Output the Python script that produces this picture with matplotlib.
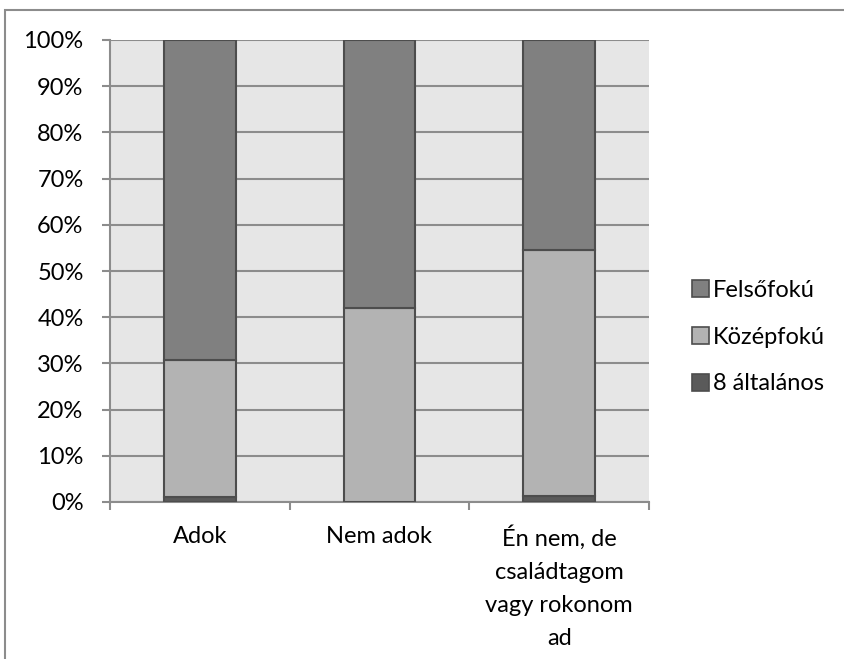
import numpy as np
import matplotlib.pyplot as plt
from matplotlib.patches import Rectangle, Patch

plt.rcParams['font.family'] = ['Lato', 'DejaVu Sans']

categories = ['Adok', 'Nem adok', 'Én nem, de\ncsaládtagom\nvagy rokonom\nad']
series = ['8 általános', 'Középfokú', 'Felsőfokú']
altalanos = [1.0, 0.0, 1.3]
kozepfoku = [29.7, 42.0, 53.2]
felsofoku = [69.3, 58.0, 45.5]
colors = ['#5a5a5a', '#b3b3b3', '#808080']

fs = 17

fig = plt.figure(figsize=(8.45, 6.59), dpi=100)
fig.patches.append(Rectangle((5 / 845, -0.05), 1.2, 0.05 + (659 - 10) / 659,
                             transform=fig.transFigure, fill=False,
                             edgecolor='#8c8c8c', linewidth=1.5))
ax = fig.add_axes([110 / 845, (659 - 502) / 659, (649 - 110) / 845, (502 - 40) / 659])
ax.set_facecolor('#e6e6e6')

x = np.arange(len(categories))
bottom = np.zeros(len(categories))
for vals, col, name in zip([altalanos, kozepfoku, felsofoku], colors, series):
    ax.bar(x, vals, 0.4, bottom=bottom, color=col, edgecolor='#4d4d4d',
           linewidth=1.5, label=name, zorder=3)
    bottom += np.array(vals)

ax.set_xlim(-0.5, 2.5)
ax.set_ylim(0, 100)
ax.set_yticks(np.arange(0, 101, 10))
ax.set_yticklabels([f'{v}%' for v in range(0, 101, 10)], fontsize=fs)
ax.yaxis.grid(True, color='#8c8c8c', linewidth=1.5, zorder=0)
ax.set_axisbelow(True)

ax.set_xticks([-0.5, 0.5, 1.5, 2.5])
ax.set_xticklabels([])
ax.set_xticks(x, minor=True)
ax.set_xticklabels(categories, minor=True, fontsize=fs, linespacing=1.7, va='top')
ax.tick_params(axis='x', which='minor', length=0, pad=17)
ax.tick_params(axis='x', which='major', length=6, width=1.5, color='#8c8c8c')
ax.tick_params(axis='y', length=6, width=1.5, color='#8c8c8c', pad=13)

for s in ['top', 'right']:
    ax.spines[s].set_visible(False)
for s in ['left', 'bottom']:
    ax.spines[s].set_color('#8c8c8c')
    ax.spines[s].set_linewidth(1.5)

handles = [Patch(facecolor=c, edgecolor='#4d4d4d', linewidth=1.2) for c in colors]
leg = fig.legend(handles[::-1], series[::-1], loc='center left',
                 bbox_to_anchor=(692 / 845, (659 - 337) / 659), frameon=False,
                 fontsize=fs, handlelength=0.72, handleheight=0.72,
                 handletextpad=0.15, labelspacing=1.1, borderpad=0,
                 borderaxespad=0)

fig.savefig('out.png', dpi=100)
